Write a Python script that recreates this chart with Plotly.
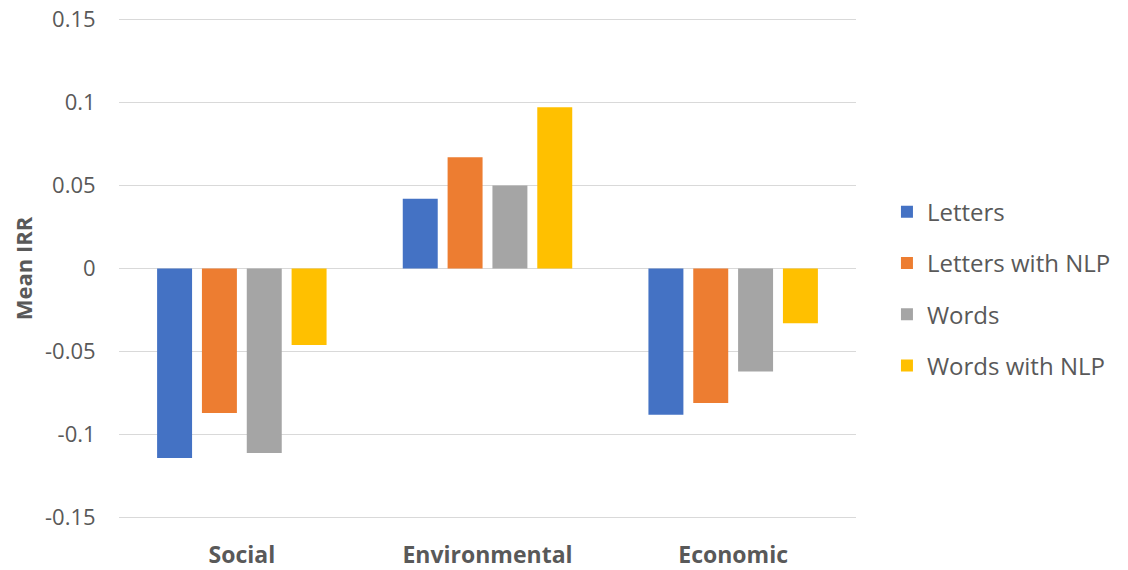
import plotly.graph_objects as go

categories = ["Social", "Environmental", "Economic"]
series_names = ["Letters", "Letters with NLP", "Words", "Words with NLP"]
letters = [-0.114, 0.042, -0.088]
letters_nlp = [-0.087, 0.067, -0.081]
words = [-0.111, 0.050, -0.062]
words_nlp = [-0.046, 0.097, -0.033]
colors = ["#4472C4", "#ED7D31", "#A5A5A5", "#FFC000"]
y_ticks = [-0.15, -0.1, -0.05, 0, 0.05, 0.1, 0.15]
y_tick_labels = ["-0.15", "-0.1", "-0.05", "0", "0.05", "0.1", "0.15"]

fig = go.Figure()
for i, (name, vals) in enumerate(zip(series_names, [letters, letters_nlp, words, words_nlp])):
    fig.add_trace(go.Bar(
        x=[f"<b>{c}</b>" for c in categories], y=vals, name=name,
        marker=dict(color=colors[i], line=dict(width=0)),
        legendgroup=f"g{i}",
    ))

font_family = "'Open Sans', sans-serif"
fig.update_layout(
    width=1128, height=570,
    margin=dict(l=119, r=266, t=16, b=49),
    paper_bgcolor="white", plot_bgcolor="white",
    barmode="group", bargap=0.27, bargroupgap=0.22,
    font=dict(family=font_family, color="#595959", size=20),
    legend=dict(
        x=1.042, xanchor="left", y=0.46, yanchor="middle",
        font=dict(size=24, color="#595959"),
        tracegroupgap=17, itemwidth=30,
    ),
    showlegend=True,
)
fig.update_yaxes(
    range=[-0.152, 0.152], tickvals=y_ticks, ticktext=y_tick_labels,
    showgrid=True, gridcolor="#D9D9D9", gridwidth=1,
    zeroline=True, zerolinecolor="#D9D9D9", zerolinewidth=1,
    showline=False, automargin=False,
    ticks="outside", ticklen=18, tickcolor="rgba(0,0,0,0)",
    tickfont=dict(size=22, color="#595959"),
    title=dict(text="<b>Mean IRR</b>", font=dict(size=22, color="#595959"), standoff=6),
)
fig.update_xaxes(
    showgrid=False, showline=False, automargin=False,
    ticks="outside", ticklen=13, tickcolor="rgba(0,0,0,0)",
    tickfont=dict(size=23, color="#595959"),
)

fig.write_html("out.html")
